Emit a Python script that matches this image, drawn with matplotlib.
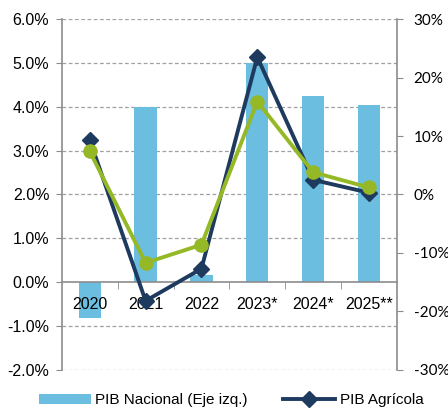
import matplotlib.pyplot as plt
import numpy as np

years = ['2020', '2021', '2022', '2023*', '2024*', '2025**']
pib_nacional = [-0.82, 4.0, 0.17, 5.0, 4.24, 4.04]
pib_agricola = [9.3, -18.2, -12.7, 23.5, 2.5, 0.3]
pib_verde = [7.4, -11.7, -8.6, 15.9, 3.8, 1.2]

plt.rcParams['font.family'] = ['Liberation Sans', 'DejaVu Sans']

bar_color = '#6BBEDF'
navy = '#1F3A5F'
green = '#95B926'
axis_gray = '#8C8C8C'

fig = plt.figure(figsize=(4.48, 4.16), dpi=100)
ax = fig.add_axes([0.138, 0.111, 0.748, 0.843])

x = np.arange(len(years))
bars = ax.bar(x, pib_nacional, width=0.4, color=bar_color, zorder=2,
              label='PIB Nacional (Eje izq.)')

ax.set_xlim(-0.5, len(years) - 0.5)
ax.set_ylim(-2, 6)
yticks = np.arange(-2, 7, 1)
ax.set_yticks(yticks)
ax.set_yticklabels([f'{v:.1f}%' for v in yticks], fontsize=11.5)
# grid drawn by hand so it stays under the bars while tick labels sit on top
for v in yticks:
    if v != 0:
        ax.axhline(v, linestyle=(0, (3, 2)), color='#A0A0A0', linewidth=0.9, zorder=0)
ax.set_axisbelow(False)

ax.spines['top'].set_visible(False)
ax.spines['right'].set_visible(False)
ax.spines['left'].set_color(axis_gray)
ax.spines['bottom'].set_position(('data', 0))
ax.spines['bottom'].set_color(axis_gray)
ax.spines['bottom'].set_linewidth(1.2)
ax.spines['left'].set_linewidth(1.2)

ax.set_xticks(x)
ax.set_xticklabels(years, fontsize=11.5)
ax.set_xticks(np.arange(0.5, len(years) - 0.5, 1), minor=True)
ax.tick_params(axis='x', which='major', length=0, pad=11)
ax.tick_params(axis='x', which='minor', length=5, color=axis_gray, direction='out')
ax.tick_params(axis='y', length=4, color=axis_gray, pad=5)

ax2 = ax.twinx()
ax2.set_ylim(-30, 30)
ax2.set_yticks(np.arange(-30, 31, 10))
ax2.set_yticklabels([f'{v}%' for v in np.arange(-30, 31, 10)], fontsize=11,
                    family=['Lato', 'DejaVu Sans'])
for s in ['top', 'left', 'bottom']:
    ax2.spines[s].set_visible(False)
ax2.spines['right'].set_color(axis_gray)
ax2.spines['right'].set_linewidth(1.2)
ax2.tick_params(axis='y', length=4, color=axis_gray, pad=8)

line_agr, = ax2.plot(x, pib_agricola, color=navy, linewidth=2.8, marker='D',
                     markersize=8, label='PIB Agrícola', zorder=3)
ax2.plot(x, pib_verde, color=green, linewidth=2.8, marker='o', markersize=9.5,
         zorder=4)

fig.legend(handles=[bars, line_agr], labels=['PIB Nacional (Eje izq.)', 'PIB Agrícola'],
           loc='lower left', bbox_to_anchor=(0.056, -0.012), ncol=2, frameon=False,
           fontsize=11, handlelength=3.4, handleheight=0.6, columnspacing=2.3,
           handletextpad=0.3)

fig.savefig('out.png', dpi=100)
